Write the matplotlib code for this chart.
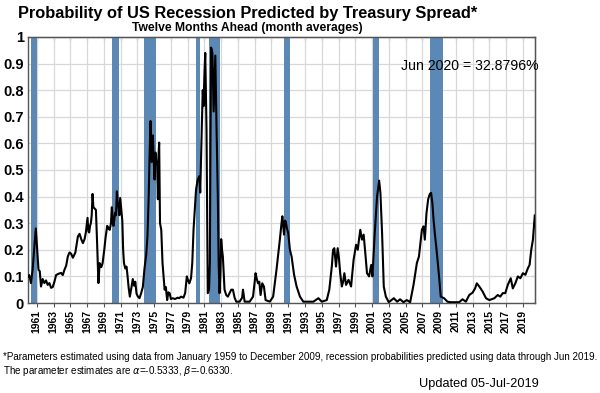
import matplotlib
matplotlib.use('Agg')
import matplotlib.pyplot as plt
import numpy as np

# monthly-average probability (decimal year, probability)
years = [
    1960.0, 1960.1, 1960.3, 1960.5, 1960.7, 1960.88, 1961.0, 1961.2, 1961.35, 1961.5,
    1961.7, 1961.9, 1962.1, 1962.3, 1962.5, 1962.7, 1962.9, 1963.1, 1963.3, 1963.6,
    1963.9, 1964.1, 1964.3, 1964.5, 1964.7, 1964.9, 1965.1, 1965.3, 1965.6, 1965.9,
    1966.1, 1966.3, 1966.5, 1966.7, 1966.85, 1967.05, 1967.15, 1967.25, 1967.35, 1967.45,
    1967.55, 1967.65, 1967.75, 1967.9, 1968.05, 1968.2, 1968.35, 1968.5, 1968.7, 1968.85,
    1969.05, 1969.2, 1969.4, 1969.55, 1969.7, 1969.85, 1969.95, 1970.05, 1970.15, 1970.35,
    1970.45, 1970.55, 1970.65, 1970.75, 1970.85, 1970.95, 1971.05, 1971.2, 1971.3, 1971.4,
    1971.55, 1971.7, 1971.8, 1971.95, 1972.1, 1972.3, 1972.45, 1972.6, 1972.75, 1972.9,
    1973.05, 1973.25, 1973.45, 1973.65, 1973.85, 1974.05, 1974.2, 1974.35, 1974.45, 1974.57,
    1974.7, 1974.85, 1974.95, 1975.05, 1975.15, 1975.25, 1975.35, 1975.45, 1975.5, 1975.6,
    1975.7, 1975.85, 1976.0, 1976.25, 1976.4, 1976.55, 1976.7, 1976.85, 1977.0, 1977.2,
    1977.5, 1977.8, 1978.0, 1978.2, 1978.5, 1978.7, 1978.9, 1979.05, 1979.2, 1979.4,
    1979.55, 1979.7, 1979.85, 1980.0, 1980.2, 1980.4, 1980.5, 1980.6, 1980.7, 1980.8,
    1980.9, 1981.0, 1981.1, 1981.25, 1981.4, 1981.55, 1981.65, 1981.72, 1981.8, 1981.95,
    1982.1, 1982.3, 1982.45, 1982.6, 1982.7, 1982.8, 1982.9, 1983.0, 1983.1, 1983.2,
    1983.4, 1983.6, 1983.8, 1984.0, 1984.2, 1984.4, 1984.6, 1984.8, 1985.2, 1985.5,
    1985.6, 1985.8, 1986.4, 1986.8, 1987.0, 1987.1, 1987.25, 1987.4, 1987.55, 1987.7,
    1987.9, 1988.1, 1988.3, 1988.8, 1989.2, 1989.6, 1989.8, 1990.0, 1990.2, 1990.3,
    1990.5, 1990.6, 1990.7, 1990.85, 1991.0, 1991.2, 1991.4, 1991.7, 1992.0, 1992.4,
    1992.8, 1994.0, 1994.6, 1995.0, 1995.6, 1995.9, 1996.2, 1996.35, 1996.5, 1996.7,
    1996.9, 1997.05, 1997.2, 1997.4, 1997.55, 1997.7, 1997.9, 1998.2, 1998.5, 1998.8,
    1999.1, 1999.3, 1999.45, 1999.6, 1999.8, 2000.0, 2000.2, 2000.4, 2000.65, 2000.9,
    2001.05, 2001.3, 2001.6, 2001.85, 2002.0, 2002.2, 2002.4, 2002.65, 2003.0, 2003.6,
    2004.0, 2004.35, 2004.75, 2005.15, 2005.55, 2005.95, 2006.35, 2006.6, 2006.95, 2007.15,
    2007.3, 2007.5, 2007.7, 2007.9, 2008.05, 2008.2, 2008.35, 2008.5, 2008.7, 2009.0,
    2009.2, 2009.6, 2010.0, 2010.4, 2010.8, 2011.4, 2011.8, 2012.2, 2012.6, 2013.0,
    2013.3, 2013.5, 2013.8, 2014.2, 2014.6, 2015.0, 2015.6, 2016.0, 2016.3, 2016.6,
    2016.9, 2017.2, 2017.55, 2017.8, 2018.1, 2018.4, 2018.7, 2019.0, 2019.3, 2019.6,
    2019.8, 2020.0, 2020.2, 2020.42,
]
prob = [
    0.10, 0.105, 0.075, 0.125, 0.21, 0.28, 0.22, 0.125, 0.12, 0.062,
    0.09, 0.075, 0.085, 0.068, 0.075, 0.057, 0.06, 0.08, 0.105, 0.11,
    0.113, 0.105, 0.125, 0.14, 0.175, 0.19, 0.185, 0.17, 0.19, 0.25,
    0.26, 0.24, 0.225, 0.24, 0.265, 0.32, 0.27, 0.265, 0.29, 0.30,
    0.33, 0.41, 0.36, 0.355, 0.35, 0.22, 0.075, 0.15, 0.135, 0.15,
    0.20, 0.245, 0.29, 0.28, 0.275, 0.30, 0.36, 0.32, 0.29, 0.34,
    0.33, 0.42, 0.38, 0.36, 0.33, 0.395, 0.36, 0.31, 0.20, 0.15,
    0.13, 0.137, 0.11, 0.06, 0.024, 0.06, 0.09, 0.065, 0.08, 0.035,
    0.025, 0.018, 0.037, 0.06, 0.13, 0.18, 0.25, 0.40, 0.55, 0.684,
    0.53, 0.63, 0.54, 0.464, 0.566, 0.53, 0.53, 0.39, 0.54, 0.603,
    0.30, 0.275, 0.15, 0.05, 0.06, 0.011, 0.04, 0.037, 0.015, 0.018,
    0.015, 0.02, 0.018, 0.024, 0.02, 0.037, 0.10, 0.085, 0.074, 0.093,
    0.15, 0.275, 0.35, 0.426, 0.464, 0.477, 0.415, 0.55, 0.68, 0.80,
    0.74, 0.86, 0.94, 0.65, 0.037, 0.05, 0.15, 0.60, 0.96, 0.94,
    0.72, 0.93, 0.65, 0.40, 0.15, 0.037, 0.10, 0.24, 0.20, 0.175,
    0.05, 0.03, 0.024, 0.037, 0.05, 0.05, 0.02, 0.005, 0.005, 0.02,
    0.05, 0.005, 0.005, 0.024, 0.08, 0.112, 0.09, 0.074, 0.08, 0.03,
    0.074, 0.062, 0.011, 0.005, 0.024, 0.125, 0.18, 0.238, 0.30, 0.326,
    0.257, 0.31, 0.307, 0.28, 0.263, 0.20, 0.175, 0.106, 0.062, 0.024,
    0.005, 0.005, 0.018, 0.005, 0.011, 0.05, 0.137, 0.20, 0.206, 0.137,
    0.206, 0.17, 0.112, 0.062, 0.08, 0.112, 0.068, 0.087, 0.062, 0.162,
    0.219, 0.20, 0.24, 0.275, 0.238, 0.257, 0.187, 0.112, 0.10, 0.143,
    0.10, 0.25, 0.40, 0.46, 0.414, 0.263, 0.062, 0.024, 0.003, 0.018,
    0.005, 0.014, 0.003, 0.011, 0.003, 0.068, 0.15, 0.175, 0.275, 0.288,
    0.238, 0.338, 0.39, 0.41, 0.414, 0.376, 0.31, 0.26, 0.20, 0.10,
    0.024, 0.018, 0.005, 0.003, 0.003, 0.003, 0.014, 0.005, 0.03, 0.039,
    0.055, 0.074, 0.062, 0.043, 0.018, 0.011, 0.018, 0.03, 0.024, 0.037,
    0.037, 0.068, 0.093, 0.055, 0.074, 0.10, 0.093, 0.112, 0.106, 0.131,
    0.143, 0.20, 0.238, 0.329,
]

# NBER recession start / end (decimal years)
rec_start = [1960.25, 1969.92, 1973.83, 1980.0, 1981.5, 1990.5, 2001.17, 2007.92]
rec_end = [1961.08, 1970.83, 1975.17, 1980.5, 1982.83, 1991.17, 2001.83, 2009.42]

tick_years = list(range(1961, 2020, 2))
y_ticks = [0, 0.1, 0.2, 0.3, 0.4, 0.5, 0.6, 0.7, 0.8, 0.9, 1]

fig = plt.figure(figsize=(6, 3.93), dpi=100)
ax = fig.add_axes([0.0467, 0.229, 0.845, 0.677])

for s, e in zip(rec_start, rec_end):
    ax.axvspan(s, e, color='#5c88b6', lw=0, zorder=2)

ax.plot(years, prob, color='black', lw=1.5, zorder=3)

ax.set_xlim(1959.95, 2020.45)
ax.set_ylim(0, 1)
ax.set_xticks(tick_years)
ax.set_xticklabels([str(t) for t in tick_years], rotation=90, fontsize=7.5,
                   fontweight='bold', family='Liberation Sans')
ax.set_yticks(y_ticks)
ax.set_yticklabels(['%g' % v for v in y_ticks], fontsize=10.5, fontweight='bold',
                   family='Liberation Sans')
ax.grid(True, color='#d8d8d8', lw=0.9, zorder=0)
ax.set_axisbelow(True)
ax.tick_params(axis='x', direction='out', length=3, pad=2, color='#555555')
ax.tick_params(axis='y', length=0, pad=3)
for sp in ax.spines.values():
    sp.set_color('#555555')
    sp.set_linewidth(1.0)

# inward ticks on top and right edges
sec_top = ax.secondary_xaxis('top')
sec_top.set_xticks(tick_years)
sec_top.tick_params(direction='in', length=3, labeltop=False, color='#555555')
sec_top.set_xticklabels([])
sec_right = ax.secondary_yaxis('right')
sec_right.set_yticks(y_ticks)
sec_right.tick_params(direction='in', length=3, labelright=False, color='#555555')
sec_right.set_yticklabels([])

ax.text(0.736, 0.875, 'Jun 2020 = 32.8796%', transform=ax.transAxes, fontsize=10.2,
        family='Liberation Sans', zorder=5, clip_on=False)

fig.text(0.412, 0.965, 'Probability of US Recession Predicted by Treasury Spread*',
         ha='center', va='center', fontsize=11.8, fontweight='bold', family='Liberation Sans')
fig.text(0.412, 0.93, 'Twelve Months Ahead (month averages)',
         ha='center', va='center', fontsize=8.7, fontweight='bold',
         family=['Liberation Sans Narrow', 'Liberation Sans'])

fig.text(0.005, 0.092,
         '*Parameters estimated using data from January 1959 to December 2009, recession '
         'probabilities predicted using data through Jun 2019.',
         ha='left', va='center', fontsize=7.1, family=['Liberation Sans Narrow', 'Liberation Sans'])
fig.text(0.005, 0.056,
         r'The parameter estimates are $\alpha$=-0.5333, $\beta$=-0.6330.',
         ha='left', va='center', fontsize=7.1, family=['Liberation Sans Narrow', 'Liberation Sans'])
fig.text(0.698, 0.022, 'Updated 05-Jul-2019', ha='left', va='center', fontsize=9.2,
         family='Liberation Sans')

fig.savefig('out.png', dpi=100)
